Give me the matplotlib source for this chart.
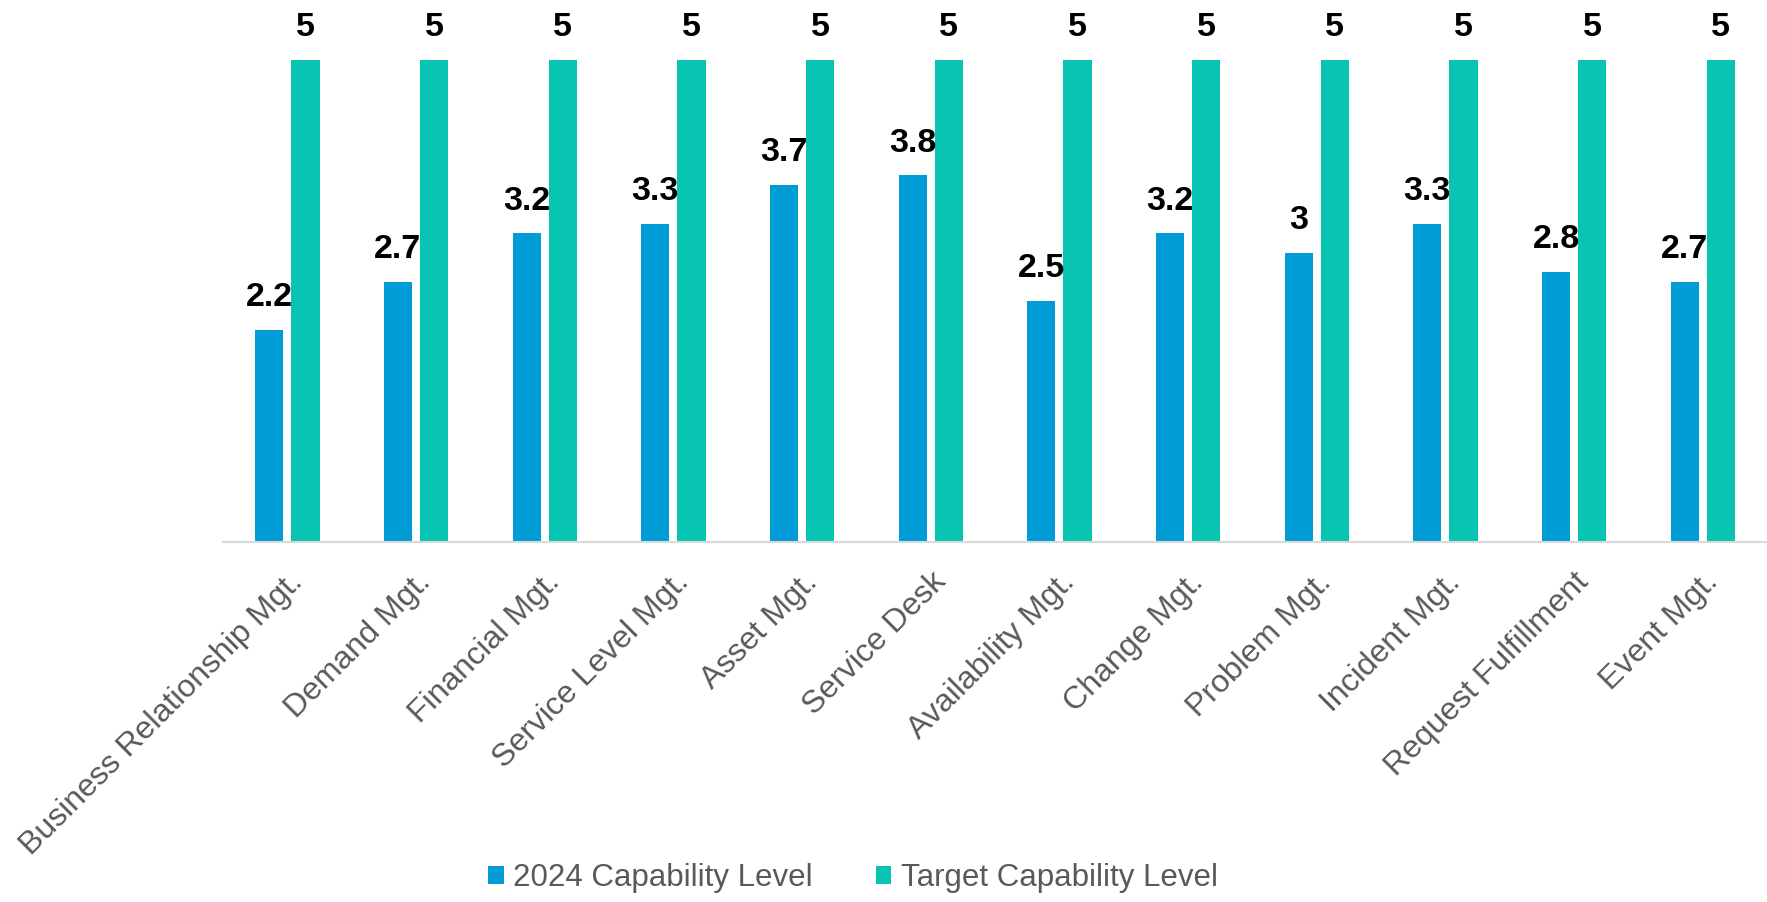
import matplotlib
matplotlib.use("Agg")
import matplotlib.pyplot as plt
import numpy as np

categories = ["Business Relationship Mgt.", "Demand Mgt.", "Financial Mgt.",
              "Service Level Mgt.", "Asset Mgt.", "Service Desk",
              "Availability Mgt.", "Change Mgt.", "Problem Mgt.",
              "Incident Mgt.", "Request Fulfillment", "Event Mgt."]
current_2024 = [2.2, 2.7, 3.2, 3.3, 3.7, 3.8, 2.5, 3.2, 3.0, 3.3, 2.8, 2.7]
target = [5, 5, 5, 5, 5, 5, 5, 5, 5, 5, 5, 5]
series_names = ["2024 Capability Level", "Target Capability Level"]

plt.rcParams['font.family'] = ['Liberation Sans', 'DejaVu Sans']

fig = plt.figure(figsize=(17.67, 9.02), dpi=100)
ax = fig.add_axes([223/1767, 360/902, 1 - 223/1767, (542-59.7)/902])

x = np.arange(len(categories))
w = 0.22
off = 0.14
blue = "#019CD6"
green = "#08C4B2"
b1 = ax.bar(x - off, current_2024, w, color=blue, label=series_names[0])
b2 = ax.bar(x + off, target, w, color=green, label=series_names[1])

for bars, vals in ((b1, current_2024), (b2, target)):
    for r, v in zip(bars, vals):
        ax.annotate(f"{v:g}", (r.get_x() + r.get_width()/2, r.get_height()),
                    xytext=(0, 12), textcoords="offset points",
                    ha="center", va="bottom", fontsize=24.5, fontweight="bold",
                    color="black", annotation_clip=False)

ax.set_xlim(-0.5, len(categories) - 0.5)
ax.set_ylim(0, 5)
ax.set_yticks([])
for s in ["top", "right", "left"]:
    ax.spines[s].set_visible(False)
ax.spines["bottom"].set_color("#D9D9D9")
ax.spines["bottom"].set_linewidth(1.5)
ax.set_xticks(x)
ax.set_xticklabels(categories, rotation=45, ha="right", va="top",
                   rotation_mode="anchor", fontsize=23, color="#595959")
ax.tick_params(axis="x", length=0, pad=18)
for lbl in ax.get_xticklabels():
    lbl.set_x(lbl.get_position()[0])

fig.legend(handles=[b1, b2], labels=series_names, loc="center",
           bbox_to_anchor=(853/1767, 24/902), ncol=2, frameon=False,
           fontsize=22.5, labelcolor="#595959", handlelength=0.5,
           handleheight=0.5, handletextpad=0.3, columnspacing=2.0)

fig.savefig("out.png", dpi=100)
